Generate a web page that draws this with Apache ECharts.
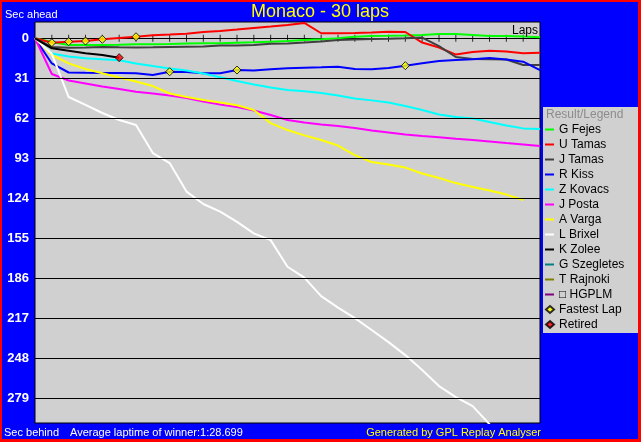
<!DOCTYPE html>
<html><head><meta charset="utf-8">
<script src="https://cdn.jsdelivr.net/npm/echarts@6/dist/echarts.min.js"></script>
<style>html,body{margin:0;padding:0;background:#0000ff;overflow:hidden}#c{width:641px;height:442px}</style>
</head><body><div id="c"></div>
<script>
// ---- data ----
const laps = [0,1,2,3,4,5,6,7,8,9,10,11,12,13,14,15,16,17,18,19,20,21,22,23,24,25,26,27,28,29,30];
const yTicks = [0,31,62,93,124,155,186,217,248,279];
const gFejes = [0,2.9,5.2,5.2,5.2,5.0,4.7,4.6,4.4,4.1,3.9,3.9,3.5,3.1,2.6,2.1,1.3,0.8,0,-1.2,-1.8,-1.9,-2.2,-2.6,-3.3,-3.3,-2.6,-1.8,-1.8,-1.4,-0.8];
const uTamas = [0,3.4,2.6,2.1,0.8,-0.2,-1.2,-2.3,-2.9,-3.6,-4.9,-5.7,-6.8,-8.0,-9.1,-10.3,-11.9,-3.9,-3.9,-4.1,-4.5,-5.0,-4.9,3.3,7.1,12.6,10.6,9.6,10.2,11.6,11.2];
const jTamas = [0,6.7,7.4,7.1,6.7,7.0,7.1,7.0,6.7,6.5,6.4,5.6,5.6,5.2,4.3,4.0,3.3,2.5,1.3,0.9,0.5,0.4,0.0,-0.6,6.0,14.5,16.0,16.3,16.4,20.7,20.7];
const rKiss = [0,19.5,26.5,26.7,26.8,26.9,27.1,28.4,25.9,26.1,27.1,27.1,24.6,25.0,24.0,23.3,22.9,22.5,22.0,23.8,24.0,23.0,21.2,19.4,17.6,16.8,16.3,15.3,16.4,18.1,24.6];
const zKovacs = [0,11.8,14.1,15.5,16.3,17.0,19.5,21.5,23.4,25.0,27.3,30.2,33.1,35.8,38.1,40.1,41.1,42.4,44.3,46.7,48.1,49.8,52.5,55.6,59.1,60.9,62.2,64.9,67.6,69.8,70.3];
const jPosta = [0,27.7,32.7,35.0,37.4,39.3,41.5,42.8,44.3,46.3,49.0,51.3,53.3,56.0,59.5,63.3,65.3,66.8,68.0,69.5,71.5,73.0,74.6,75.7,76.7,77.8,78.8,80.0,81.2,82.3,83.5];
const aVarga = [0,12.9,19.4,23.8,27.1,30.4,33.5,37.0,42.8,45.5,47.8,49.8,51.9,55.6,65.7,71.1,75.2,78.8,83.1,90.5,95.9,97.8,100.2,104.8,108.3,112.2,115.3,118.0,121.1,125.3];
const lBrixel = [0,12,45.5,51.6,57.9,63.3,67.2,88.9,96.7,118.8,128.4,134.3,142.2,151.2,156.4,177,185.4,199.8,208.7,216.8,226,235.4,245.5,257,269.5,278,285,299,312];
const kZolee = [0,7.8,9.6,11.6,12.9,15.0];
const gSzegletes = [];
const tRajnoki = [];
const hgplm = [];
const fastestLaps = [['U Tamas',1],['U Tamas',2],['U Tamas',3],['U Tamas',4],['U Tamas',6],['R Kiss',8],['R Kiss',12],['R Kiss',22]];
const retiredAt = [['K Zolee',5]];

const drivers = [
  {name:'G Fejes', color:'#00ff00', values:gFejes},
  {name:'U Tamas', color:'#ff0000', values:uTamas},
  {name:'J Tamas', color:'#404040', values:jTamas},
  {name:'R Kiss', color:'#0000ff', values:rKiss},
  {name:'Z Kovacs', color:'#00ffff', values:zKovacs},
  {name:'J Posta', color:'#ff00ff', values:jPosta},
  {name:'A Varga', color:'#ffff00', values:aVarga},
  {name:'L Brixel', color:'#ffffff', values:lBrixel},
  {name:'K Zolee', color:'#000000', values:kZolee},
  {name:'G Szegletes', color:'#008080', values:gSzegletes},
  {name:'T Rajnoki', color:'#808000', values:tRajnoki},
  {name:'\u25a1 HGPLM', color:'#800080', values:hgplm}
];
const byName = {};
drivers.forEach(d => byName[d.name] = d.values);

const FONT = '"Liberation Sans", Arial, sans-serif';
const chart = echarts.init(document.getElementById('c'), null, {renderer:'canvas'});

const series = [];
series.push({
  type:'line', name:'_grid', data:[], silent:true, z:1,
  markLine:{silent:true, symbol:'none', animation:false,
    label:{show:false},
    lineStyle:{color:'#000', width:1, type:'solid'},
    data: yTicks.filter(v => v > 0).map(v => ({yAxis:v}))}
});
// lap tick marks crossing the zero line
series.push({
  type:'scatter', name:'_ticks', silent:true, z:2, symbol:'rect', symbolSize:[1,7],
  data: laps.slice(1, -1).map(l => [l, 0]),
  itemStyle:{color:'#000'}
});
drivers.forEach(d => series.push({
  type:'line', name:d.name, showSymbol:false, symbol:'none', z:3,
  data: d.values.map((v,i) => [laps[i], v]),
  lineStyle:{color:d.color, width:2}, itemStyle:{color:d.color},
  emphasis:{disabled:true}
}));
series.push({
  type:'scatter', name:'Fastest Lap', symbol:'diamond', symbolSize:8, z:5,
  data: fastestLaps.map(([n,l]) => [laps[l], byName[n][l]]),
  itemStyle:{color:'#ffff00', borderColor:'#000', borderWidth:1}
});
series.push({
  type:'scatter', name:'Retired', symbol:'diamond', symbolSize:8, z:5,
  data: retiredAt.map(([n,l]) => [laps[l], byName[n][l]]),
  itemStyle:{color:'#ff0000', borderColor:'#000', borderWidth:1}
});

const option = {
  animation:false,
  backgroundColor:'#0000ff',
  textStyle:{fontFamily:FONT},
  grid:{left:35, top:22, width:505, height:401, show:true, backgroundColor:'#d0d0d0',
        borderColor:'#000', borderWidth:1, containLabel:false, outerBoundsMode:'none'},
  xAxis:{type:'value', min:0, max:30, interval:1, position:'bottom',
     axisLine:{onZero:true, lineStyle:{color:'#000', width:1}},
     axisTick:{show:false},
     axisLabel:{show:false}, splitLine:{show:false}},
  yAxis:{type:'value', inverse:true, min:-12.63, max:298.1,
    axisLine:{show:false}, axisTick:{show:false}, splitLine:{show:false},
    axisLabel:{customValues:yTicks, color:'#fff', fontWeight:'bold', fontSize:13, fontFamily:FONT, margin:6}},
  legend:[
    {orient:'vertical', left:545, top:122, padding:0, itemGap:0, selectedMode:false,
     icon:'rect', itemWidth:9, itemHeight:2,
     textStyle:{color:'#000', fontSize:12, fontFamily:FONT, lineHeight:15, height:15},
     data: drivers.map(d => d.name)},
    {orient:'vertical', left:545, top:302, padding:0, itemGap:0, selectedMode:false,
     icon:'diamond', itemWidth:8, itemHeight:7,
     textStyle:{color:'#000', fontSize:12, fontFamily:FONT, lineHeight:15, height:15},
     data:['Fastest Lap','Retired']}
  ],
  graphic:[
    {type:'rect', z:0, shape:{x:543, y:107, width:95, height:226}, style:{fill:'#d0d0d0'}},
    {type:'text', z:1, x:546, y:115, style:{text:'Result/Legend', fill:'#8c8c8c', font:'12px '+FONT, textVerticalAlign:'middle'}},
    {type:'text', z:1, x:320, y:12, style:{text:'Monaco - 30 laps', fill:'#ffff00', font:'18px '+FONT, textAlign:'center', textVerticalAlign:'middle'}},
    {type:'text', z:1, x:5, y:15, style:{text:'Sec ahead', fill:'#fff', font:'11px '+FONT, textVerticalAlign:'middle'}},
    {type:'text', z:10, x:538, y:31, style:{text:'Laps', fill:'#000', font:'12px '+FONT, textAlign:'right', textVerticalAlign:'middle'}},
    {type:'text', z:1, x:4, y:433, style:{text:'Sec behind', fill:'#fff', font:'11px '+FONT, textVerticalAlign:'middle'}},
    {type:'text', z:1, x:70, y:433, style:{text:'Average laptime of winner:1:28.699', fill:'#fff', font:'11px '+FONT, textVerticalAlign:'middle'}},
    {type:'text', z:1, x:541, y:433, style:{text:'Generated by GPL Replay Analyser', fill:'#ffff00', font:'11px '+FONT, textAlign:'right', textVerticalAlign:'middle'}},
    {type:'rect', z:20, shape:{x:0, y:0, width:641, height:2}, style:{fill:'#ff0000'}},
    {type:'rect', z:20, shape:{x:0, y:0, width:2, height:442}, style:{fill:'#ff0000'}},
    {type:'rect', z:20, shape:{x:638, y:0, width:3, height:442}, style:{fill:'#ff0000'}},
    {type:'rect', z:20, shape:{x:0, y:439, width:641, height:3}, style:{fill:'#ff0000'}}
  ],
  series: series
};
chart.setOption(option);
</script></body></html>
